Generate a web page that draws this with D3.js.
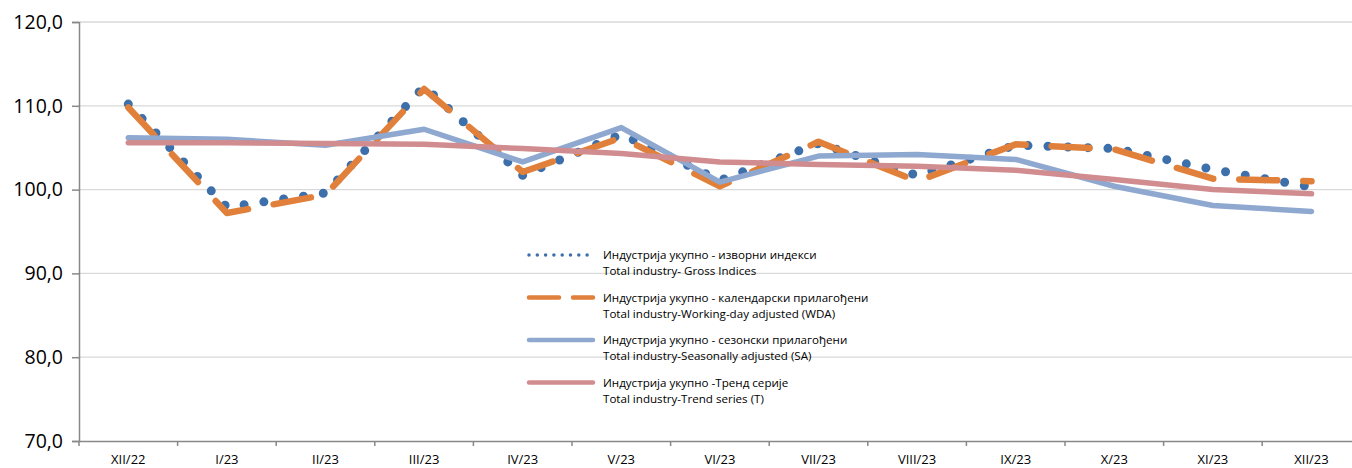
<!DOCTYPE html>
<html><head><meta charset="utf-8">
<script src="https://cdn.jsdelivr.net/npm/d3@7"></script>
<style>body{margin:0;background:#fff}svg{display:block}</style>
</head><body>
<svg id="c" width="1352" height="468"></svg>
<script>
const categories = ["XII/22","I/23","II/23","III/23","IV/23","V/23","VI/23","VII/23","VIII/23","IX/23","X/23","XI/23","XII/23"];
const gross = [110.2, 97.9, 99.6, 112.3, 101.7, 106.6, 101.1, 105.5, 101.7, 105.3, 104.9, 102.4, 100.3];
const wda   = [109.8, 97.2, 99.4, 112.0, 102.1, 106.2, 100.4, 105.7, 101.0, 105.4, 104.8, 101.3, 101.0];
const sa    = [106.2, 106.0, 105.3, 107.2, 103.3, 107.4, 100.9, 104.0, 104.2, 103.6, 100.4, 98.1, 97.4];
const trend = [105.6, 105.6, 105.5, 105.4, 104.9, 104.3, 103.3, 103.0, 102.8, 102.3, 101.2, 100.0, 99.5];
const yTicks = [70, 80, 90, 100, 110, 120];
const legendSr = ["Индустрија укупно - изворни индекси", "Индустрија укупно - календарски прилагођени", "Индустрија укупно - сезонски прилагођени", "Индустрија укупно -Тренд серије"];
const legendEn = ["Total industry- Gross Indices", "Total industry-Working-day adjusted (WDA)", "Total industry-Seasonally adjusted (SA)", "Total industry-Trend series (T)"];

const svg = d3.select("#c");
const font = "Open Sans, Liberation Sans, sans-serif";
const x = d3.scaleBand().domain(categories).range([79, 79 + 13 * 98.6]).padding(0);
const y = d3.scaleLinear().domain([70, 120]).range([441, 22]);

// gridlines
svg.append("g").selectAll("line").data(yTicks.filter(d => d > 70)).join("line")
  .attr("x1", 80).attr("x2", 1352).attr("y1", d => y(d)).attr("y2", d => y(d))
  .attr("stroke", "#d9d9d9").attr("stroke-width", 1.3);

// y axis
const ya = svg.append("g").attr("transform", "translate(79,0)")
  .call(d3.axisLeft(y).tickValues(yTicks).tickSize(7).tickPadding(9).tickFormat(d => d3.format(".1f")(d).replace(".", ",")));
ya.select(".domain").attr("stroke", "#888").attr("stroke-width", 1.5);
ya.selectAll(".tick line").attr("stroke", "#888").attr("stroke-width", 1.5);
ya.selectAll("text").attr("font-family", font).attr("font-size", 19.5).attr("fill", "#000");

// x axis
const xa = svg.append("g").attr("transform", "translate(0,441)")
  .call(d3.axisBottom(x).tickSize(0).tickPadding(14));
xa.select(".domain").attr("stroke", "#888").attr("stroke-width", 1.5);
xa.selectAll("text").attr("font-family", font).attr("font-size", 13).attr("fill", "#000");
svg.append("g").selectAll("line").data(d3.range(categories.length + 1)).join("line")
  .attr("x1", i => 79 + i * x.bandwidth()).attr("x2", i => 79 + i * x.bandwidth())
  .attr("y1", 441).attr("y2", 446).attr("stroke", "#888").attr("stroke-width", 1.5);

const line = d3.line().x((d, i) => x(categories[i]) + x.bandwidth() / 2).y(d => y(d));

const series = [
  {data: gross, color: "#3d6faa", w: 9, dash: "0 20"},
  {data: wda, color: "#e0803a", w: 6.5, dash: "38 26"},
  {data: sa, color: "#8fa8d0", w: 5.5, dash: null},
  {data: trend, color: "#d18c8f", w: 5.5, dash: null}
];
series.forEach(s => {
  svg.append("path").datum(s.data).attr("d", line).attr("fill", "none")
    .attr("stroke", s.color).attr("stroke-width", s.w).attr("stroke-linecap", "round")
    .attr("stroke-linejoin", "round").attr("stroke-dasharray", s.dash);
});

// legend
const lg = svg.append("g");
const legStyles = [
  {color: "#3d6faa", w: 3.5, dash: "0 8.3"},
  {color: "#e0803a", w: 4.5, dash: "30 14"},
  {color: "#8fa8d0", w: 4.5, dash: null},
  {color: "#d18c8f", w: 4.5, dash: null}
];
legStyles.forEach((s, i) => {
  const yy = 255 + i * 42.5;
  lg.append("line").attr("x1", 529).attr("x2", 593).attr("y1", yy).attr("y2", yy)
    .attr("stroke", s.color).attr("stroke-width", s.w).attr("stroke-linecap", "round")
    .attr("stroke-dasharray", s.dash);
  lg.append("text").attr("x", 603).attr("y", yy + 4).text(legendSr[i])
    .attr("font-family", font).attr("font-size", 11.6).attr("fill", "#000");
  lg.append("text").attr("x", 603).attr("y", yy + 20).text(legendEn[i])
    .attr("font-family", font).attr("font-size", 11.6).attr("fill", "#000");
});
</script>
</body></html>
